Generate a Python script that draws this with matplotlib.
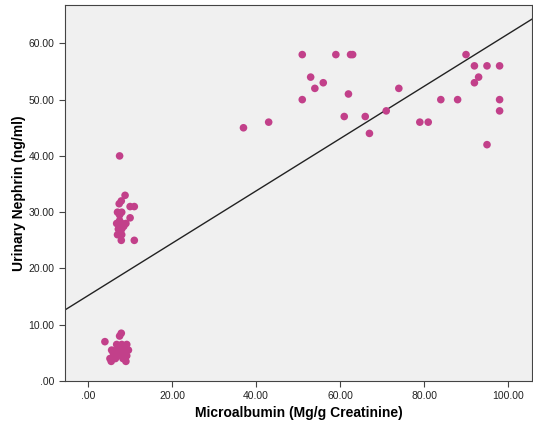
import numpy as np
import matplotlib
matplotlib.use("Agg")
import matplotlib.pyplot as plt

plt.rcParams['font.family'] = ['Liberation Sans', 'DejaVu Sans']

# lower left cluster
x_low = [4, 7.9, 7.5, 6.8, 8, 9.2, 7.5, 5.6, 6.8, 8.4, 9.6, 6, 7.5, 9.2, 5.2, 6.5, 8.3, 9, 5.5, 7, 8]
y_low = [7, 8.5, 8, 6.5, 6.5, 6.5, 6, 5.5, 5.5, 5.5, 5.5, 5, 5, 4.5, 4, 4, 4, 3.5, 3.5, 4.5, 4.8]
# upper left cluster
x_mid = [7.5, 8.8, 7.9, 7.4, 10, 11, 7, 8, 7.5, 10, 6.8, 8, 9, 7.5, 7.2, 8, 8.5, 7, 8, 7.9, 11]
y_mid = [40, 33, 32, 31.5, 31, 31, 30, 30, 29.5, 29, 28, 28, 28, 28.5, 27, 27, 27.5, 26, 26, 25, 25]
# high values
x_high = [37, 43, 51, 51, 53, 54, 56, 59, 62.5, 63, 61, 62, 66, 67, 71, 74, 79, 81, 84, 88,
          90, 92, 92, 93, 95, 95, 98, 98, 98]
y_high = [45, 46, 58, 50, 54, 52, 53, 58, 58, 58, 47, 51, 47, 44, 48, 52, 46, 46, 50, 50,
          58, 56, 53, 54, 56, 42, 56, 50, 48]

x = np.array(x_low + x_mid + x_high)
y = np.array(y_low + y_mid + y_high)

fig = plt.figure(figsize=(5.33, 4.22), dpi=100)
ax = fig.add_axes([0.122, 0.097, 0.876, 0.891])
ax.set_facecolor('#f0f0f0')

ax.scatter(x, y, s=30, color='#c2408a', edgecolors='none', zorder=3)

# fit line
b, a = np.polyfit(x, y, 1)
xl = np.array([-5.5, 105.7])
ax.plot(xl, a + b * xl, color='#222222', lw=1.0, zorder=2)

ax.set_xlim(-5.5, 105.7)
ax.set_ylim(0, 66.8)
xt = [0, 20, 40, 60, 80, 100]
yt = [0, 10, 20, 30, 40, 50, 60]
ax.set_xticks(xt)
ax.set_yticks(yt)
ax.set_xticklabels(['%.2f' % v if v else '.00' for v in xt])
ax.set_yticklabels(['%.2f' % v if v else '.00' for v in yt])
ax.tick_params(labelsize=7.5, length=4, color='#444444', colors='#222222')
for s in ax.spines.values():
    s.set_color('#444444')

ax.set_xlabel('Microalbumin (Mg/g Creatinine)', fontsize=10, fontweight='bold', labelpad=3)
ax.set_ylabel('Urinary Nephrin (ng/ml)', fontsize=10, fontweight='bold', labelpad=2)

fig.savefig('out.png', dpi=100)
